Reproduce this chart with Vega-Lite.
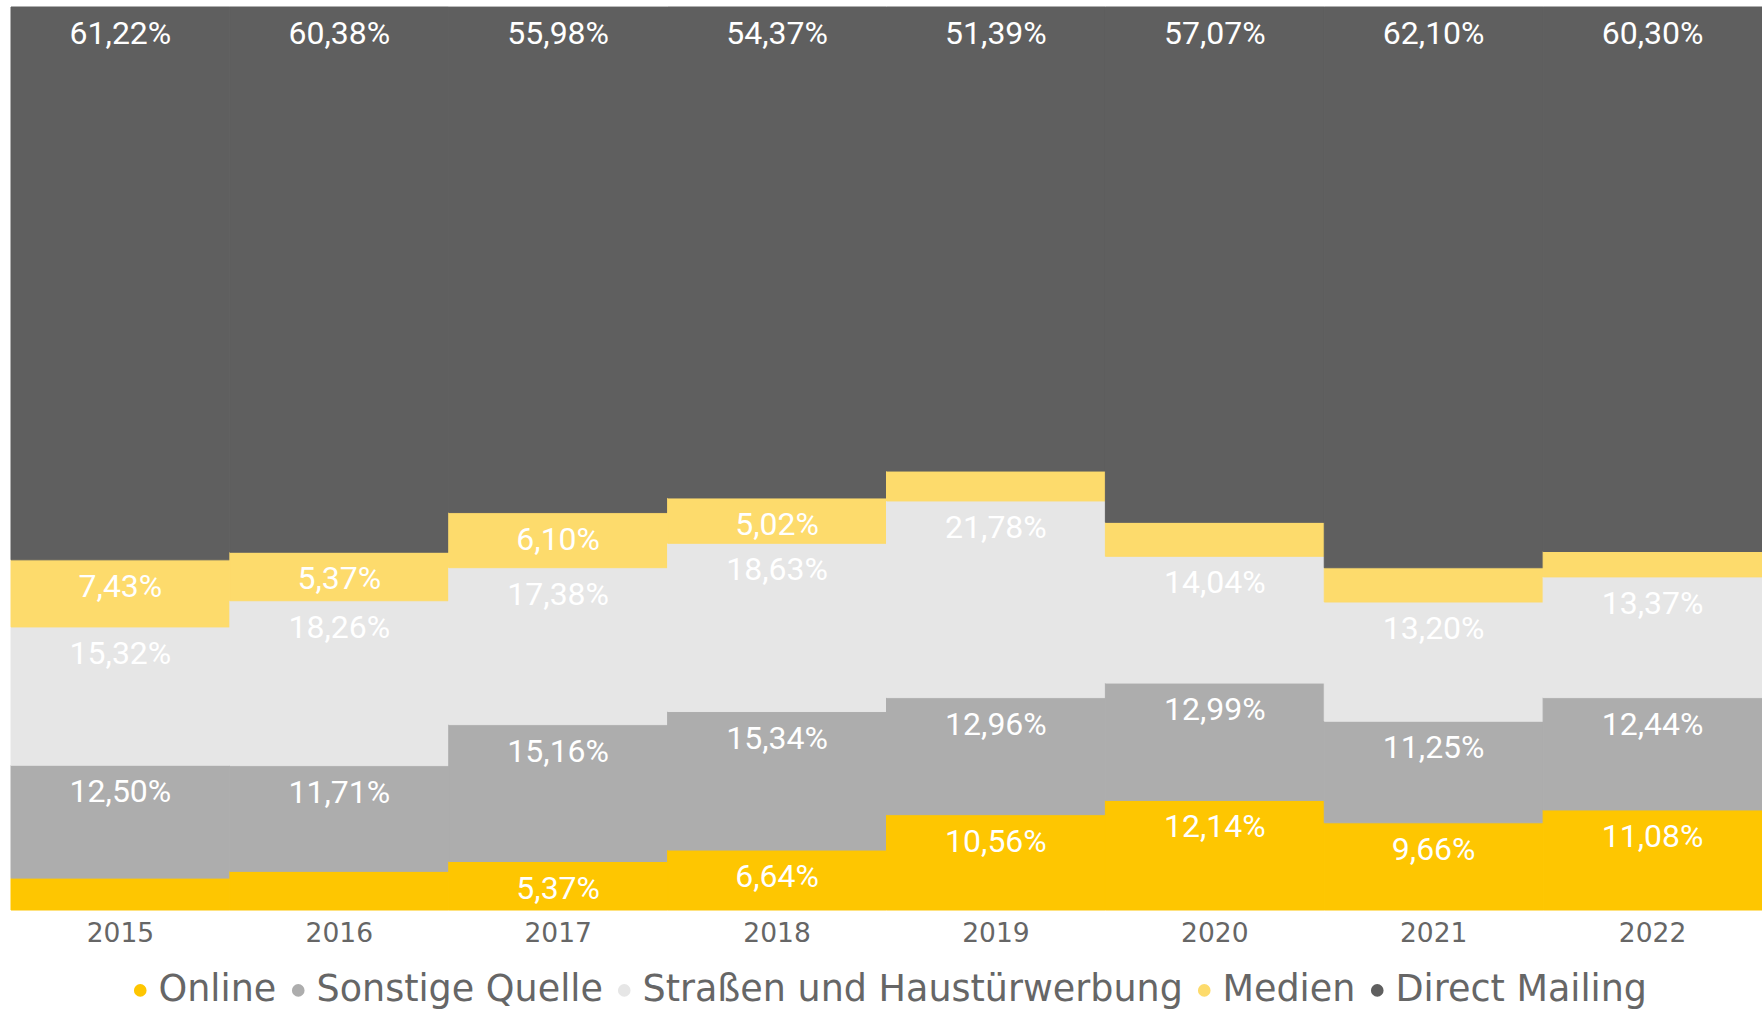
{
  "$schema": "https://vega.github.io/schema/vega-lite/v6.json",
  "width": 1751,
  "height": 903,
  "autosize": {"type": "none"},
  "padding": {"left": 11, "top": 7, "right": 0, "bottom": 100},
  "background": "white",
  "config": {"view": {"stroke": null}},
  "data": {
    "values": [
      {"year": "2015", "cat": "Online", "v": 3.53},
      {"year": "2015", "cat": "Sonstige Quelle", "v": 12.50},
      {"year": "2015", "cat": "Straßen und Haustürwerbung", "v": 15.32},
      {"year": "2015", "cat": "Medien", "v": 7.43},
      {"year": "2015", "cat": "Direct Mailing", "v": 61.22},
      {"year": "2016", "cat": "Online", "v": 4.28},
      {"year": "2016", "cat": "Sonstige Quelle", "v": 11.71},
      {"year": "2016", "cat": "Straßen und Haustürwerbung", "v": 18.26},
      {"year": "2016", "cat": "Medien", "v": 5.37},
      {"year": "2016", "cat": "Direct Mailing", "v": 60.38},
      {"year": "2017", "cat": "Online", "v": 5.37},
      {"year": "2017", "cat": "Sonstige Quelle", "v": 15.16},
      {"year": "2017", "cat": "Straßen und Haustürwerbung", "v": 17.38},
      {"year": "2017", "cat": "Medien", "v": 6.10},
      {"year": "2017", "cat": "Direct Mailing", "v": 55.98},
      {"year": "2018", "cat": "Online", "v": 6.64},
      {"year": "2018", "cat": "Sonstige Quelle", "v": 15.34},
      {"year": "2018", "cat": "Straßen und Haustürwerbung", "v": 18.63},
      {"year": "2018", "cat": "Medien", "v": 5.02},
      {"year": "2018", "cat": "Direct Mailing", "v": 54.37},
      {"year": "2019", "cat": "Online", "v": 10.56},
      {"year": "2019", "cat": "Sonstige Quelle", "v": 12.96},
      {"year": "2019", "cat": "Straßen und Haustürwerbung", "v": 21.78},
      {"year": "2019", "cat": "Medien", "v": 3.31},
      {"year": "2019", "cat": "Direct Mailing", "v": 51.39},
      {"year": "2020", "cat": "Online", "v": 12.14},
      {"year": "2020", "cat": "Sonstige Quelle", "v": 12.99},
      {"year": "2020", "cat": "Straßen und Haustürwerbung", "v": 14.04},
      {"year": "2020", "cat": "Medien", "v": 3.76},
      {"year": "2020", "cat": "Direct Mailing", "v": 57.07},
      {"year": "2021", "cat": "Online", "v": 9.66},
      {"year": "2021", "cat": "Sonstige Quelle", "v": 11.25},
      {"year": "2021", "cat": "Straßen und Haustürwerbung", "v": 13.20},
      {"year": "2021", "cat": "Medien", "v": 3.79},
      {"year": "2021", "cat": "Direct Mailing", "v": 62.10},
      {"year": "2022", "cat": "Online", "v": 11.08},
      {"year": "2022", "cat": "Sonstige Quelle", "v": 12.44},
      {"year": "2022", "cat": "Straßen und Haustürwerbung", "v": 13.37},
      {"year": "2022", "cat": "Medien", "v": 2.81},
      {"year": "2022", "cat": "Direct Mailing", "v": 60.30}
    ]
  },
  "transform": [
    {"calculate": "indexof(['Online','Sonstige Quelle','Straßen und Haustürwerbung','Medien','Direct Mailing'], datum.cat)", "as": "ord"},
    {"stack": "v", "groupby": ["year"], "sort": [{"field": "ord", "order": "ascending"}], "as": ["v0", "v1"]}
  ],
  "encoding": {
    "x": {
      "field": "year", "type": "ordinal",
      "scale": {"paddingInner": 0, "paddingOuter": 0},
      "axis": {
        "title": null, "domain": false, "ticks": false, "grid": false,
        "labelAngle": 0, "labelFont": "DejaVu Sans", "labelFontSize": 26.5,
        "labelColor": "#666666", "labelPadding": 23, "labelBaseline": "middle"
      }
    }
  },
  "layer": [
    {
      "mark": {"type": "bar", "strokeWidth": 1},
      "encoding": {
        "y": {"field": "v0", "type": "quantitative", "scale": {"domain": [0, 100], "nice": false, "zero": true}, "axis": null},
        "y2": {"field": "v1"},
        "color": {
          "field": "cat", "type": "nominal",
          "scale": {
            "domain": ["Online", "Sonstige Quelle", "Straßen und Haustürwerbung", "Medien", "Direct Mailing"],
            "range": ["#FEC601", "#ADADAD", "#E6E6E6", "#FDDB6C", "#5F5F5F"]
          },
          "legend": {
            "title": null, "orient": "none", "direction": "horizontal", "columns": 5,
            "legendX": 111, "legendY": 965, "padding": 0,
            "symbolType": "circle", "symbolSize": 160, "symbolStrokeWidth": 0,
            "labelFont": "DejaVu Sans", "labelFontSize": 36.5, "labelColor": "#666666",
            "labelOffset": 0, "columnPadding": 3, "labelLimit": 800
          }
        },
        "stroke": {
          "field": "cat", "type": "nominal",
          "scale": {
            "domain": ["Online", "Sonstige Quelle", "Straßen und Haustürwerbung", "Medien", "Direct Mailing"],
            "range": ["#FEC601", "#ADADAD", "#E6E6E6", "#FDDB6C", "#5F5F5F"]
          },
          "legend": null
        }
      }
    },
    {
      "transform": [
        {"filter": "datum.v >= 5"},
        {"calculate": "replace(format(datum.v, '.2f'), '.', ',') + '%'", "as": "lab"}
      ],
      "mark": {"type": "text", "dy": 27, "baseline": "middle", "align": "center", "font": "Roboto", "fontSize": 32, "color": "white"},
      "encoding": {
        "y": {"field": "v1", "type": "quantitative"},
        "text": {"field": "lab"}
      }
    }
  ]
}
